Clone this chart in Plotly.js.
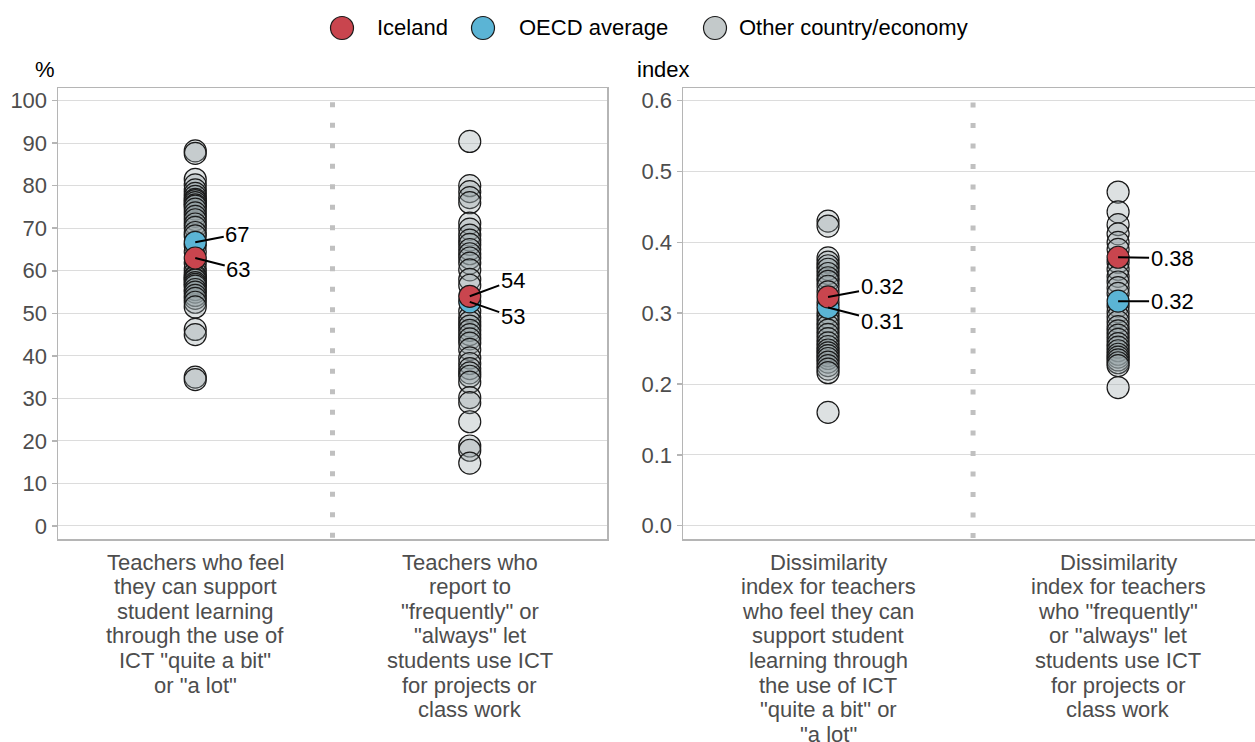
<!DOCTYPE html>
<html>
<head>
<meta charset="utf-8">
<script src="https://cdn.plot.ly/plotly-3.0.1.min.js"></script>
<style>html,body{margin:0;padding:0;background:#fff;}#chart{width:1255px;height:742px;}</style>
</head>
<body>
<div id="chart"></div>
<script>
// ---- Data ----
const categoriesPct = [
  'Teachers who feel<br>they can support<br>student learning<br>through the use of<br>ICT "quite a bit"<br>or "a lot"',
  'Teachers who<br>report to<br>"frequently" or<br>"always" let<br>students use ICT<br>for projects or<br>class work'
];
const categoriesIdx = [
  'Dissimilarity<br>index for teachers<br>who feel they can<br>support student<br>learning through<br>the use of ICT<br>"quite a bit" or<br>"a lot"',
  'Dissimilarity<br>index for teachers<br>who "frequently"<br>or "always" let<br>students use ICT<br>for projects or<br>class work'
];
const otherSupportPct = [88.2, 87.6, 81.5, 80.2, 79.0, 78.2, 77.5, 76.8, 76.5, 76.0, 75.5, 75.2, 74.5, 73.6, 72.8, 72.0, 71.0, 70.2, 69.0, 68.2, 66.0, 64.5, 61.8, 60.5, 59.6, 58.8, 58.5, 58.0, 57.8, 57.2, 56.8, 56.4, 55.6, 55.0, 54.2, 53.5, 52.6, 51.5, 46.2, 45.0, 35.0, 34.4];
const otherLetUsePct = [90.4, 80.0, 78.6, 77.2, 76.0, 71.2, 69.8, 68.4, 67.2, 66.2, 65.0, 64.0, 63.0, 61.8, 60.2, 58.0, 56.6, 50.5, 49.0, 48.0, 47.0, 46.0, 45.0, 44.0, 43.0, 41.5, 39.5, 38.2, 37.0, 36.0, 35.2, 33.8, 30.2, 29.0, 24.5, 18.8, 17.8, 14.8];
const otherSupportIdx = [0.430, 0.423, 0.378, 0.372, 0.367, 0.362, 0.356, 0.350, 0.345, 0.338, 0.330, 0.315, 0.300, 0.294, 0.288, 0.282, 0.276, 0.270, 0.264, 0.258, 0.253, 0.248, 0.244, 0.240, 0.236, 0.231, 0.226, 0.221, 0.216, 0.160];
const otherLetUseIdx = [0.471, 0.443, 0.425, 0.412, 0.400, 0.390, 0.372, 0.362, 0.352, 0.344, 0.336, 0.328, 0.310, 0.302, 0.295, 0.288, 0.281, 0.275, 0.269, 0.263, 0.257, 0.252, 0.247, 0.242, 0.238, 0.234, 0.230, 0.226, 0.195];
const icelandPct = [63.0, 54.0];
const oecdPct = [66.7, 52.7];
const icelandIdx = [0.323, 0.379];
const oecdIdx = [0.308, 0.317];
const seriesNames = ['Iceland', 'OECD average', 'Other country/economy'];
const pctTicks = [0, 10, 20, 30, 40, 50, 60, 70, 80, 90, 100];
const idxTicks = [0, 0.1, 0.2, 0.3, 0.4, 0.5, 0.6];

// ---- Style ----
const FONT = 'Arial, "Liberation Sans", sans-serif';
const FS = 22;
const RED = '#c9454e', BLUE = '#5bb4d5', GREY_FILL = 'rgba(150,163,165,0.32)', GREY_LEG = '#c3c9ca';
const MS = 22;
const mline = {color: '#1a1a1a', width: 1.2};
const W = 1255, H = 742;

const traces = [];
function addOthers(cat, vals, xa, ya) {
  traces.push({type: 'scatter', mode: 'markers', name: seriesNames[2], showlegend: false, hoverinfo: 'y',
    x: vals.map(() => cat), y: vals, xaxis: xa, yaxis: ya,
    marker: {size: MS, color: GREY_FILL, line: mline}});
}
addOthers(categoriesPct[0], otherSupportPct, 'x', 'y');
addOthers(categoriesPct[1], otherLetUsePct, 'x', 'y');
addOthers(categoriesIdx[0], otherSupportIdx, 'x2', 'y2');
addOthers(categoriesIdx[1], otherLetUseIdx, 'x2', 'y2');
function addMain(name, cats, vals, color, xa, ya) {
  traces.push({type: 'scatter', mode: 'markers', name: name, showlegend: false, hoverinfo: 'y',
    x: cats, y: vals, xaxis: xa, yaxis: ya,
    marker: {size: MS, color: color, line: mline}});
}
addMain(seriesNames[1], categoriesPct, oecdPct, BLUE, 'x', 'y');
addMain(seriesNames[0], categoriesPct, icelandPct, RED, 'x', 'y');
addMain(seriesNames[1], categoriesIdx, oecdIdx, BLUE, 'x2', 'y2');
addMain(seriesNames[0], categoriesIdx, icelandIdx, RED, 'x2', 'y2');

// value labels (offsets in pixels)
const labelOffsets = {
  pctOecd: [[42, -8], [43, 15]],
  pctIce: [[43, 11], [43, -16]],
  idxOecd: [[54, 14], [54, 0]],
  idxIce: [[54, -10], [54, 1]]
};
const annotations = [];
function addLabels(cats, vals, offs, digits, xa, ya) {
  cats.forEach((c, i) => {
    annotations.push({x: c, y: vals[i], xref: xa, yref: ya, text: vals[i].toFixed(digits),
      showarrow: true, arrowhead: 0, arrowwidth: 2, arrowcolor: '#000', standoff: 0,
      ax: offs[i][0], ay: offs[i][1], font: {family: FONT, size: FS, color: '#000'}});
  });
}
addLabels(categoriesPct, oecdPct, labelOffsets.pctOecd, 0, 'x', 'y');
addLabels(categoriesPct, icelandPct, labelOffsets.pctIce, 0, 'x', 'y');
addLabels(categoriesIdx, oecdIdx, labelOffsets.idxOecd, 2, 'x2', 'y2');
addLabels(categoriesIdx, icelandIdx, labelOffsets.idxIce, 2, 'x2', 'y2');

// category labels, one annotation per line (tighter line spacing than Plotly's default)
function addCategoryLabels(cats, xa) {
  cats.forEach(c => {
    c.split('<br>').forEach((line, i) => {
      annotations.push({x: c, xref: xa, y: 1 - (562 + i * 24.6) / H, yref: 'paper', yanchor: 'middle',
        text: line, showarrow: false, font: {family: FONT, size: FS, color: '#4d4d4d'}});
    });
  });
}
addCategoryLabels(categoriesPct, 'x');
addCategoryLabels(categoriesIdx, 'x2');

// axis unit titles
annotations.push({x: 33/W, y: 1 - 70/H, xref: 'paper', yref: 'paper', yanchor: 'middle', text: '%', showarrow: false,
  font: {family: FONT, size: FS, color: '#000'}});
annotations.push({x: 663/W, y: 1 - 70/H, xref: 'paper', yref: 'paper', yanchor: 'middle', text: 'index', showarrow: false,
  font: {family: FONT, size: FS, color: '#000'}});

// manual legend (larger symbols than Plotly's legend allows)
const shapes = [];
const legendItems = [
  {name: seriesNames[0], color: RED, cx: 342, tx: 375},
  {name: seriesNames[1], color: BLUE, cx: 483, tx: 517},
  {name: seriesNames[2], color: GREY_LEG, cx: 715, tx: 737}
];
legendItems.forEach(it => {
  shapes.push({type: 'circle', xref: 'paper', yref: 'paper', xsizemode: 'pixel', ysizemode: 'pixel',
    xanchor: it.cx/W, yanchor: 1 - 28/H, x0: -11.5, x1: 11.5, y0: -11.5, y1: 11.5,
    fillcolor: it.color, line: {color: '#1a1a1a', width: 1.2}});
  annotations.push({x: it.tx/W, y: 1 - 28/H, xref: 'paper', yref: 'paper', xanchor: 'left', yanchor: 'middle',
    text: it.name, showarrow: false, font: {family: FONT, size: FS, color: '#000'}});
});

// dotted separators
const sepLine = {color: '#c0c0c0', width: 5, dash: '5px,15.5px'};
shapes.push({type: 'line', xref: 'x', yref: 'y', x0: 0.5, x1: 0.5, y0: 99.6, y1: -3.06, line: sepLine});
shapes.push({type: 'line', xref: 'x2', yref: 'y2', x0: 0.5, x1: 0.5, y0: 0.5973, y1: -0.0188, line: sepLine});

const axisCol = '#b5b5b5';
const xCommon = {type: 'category', showgrid: false, zeroline: false, showline: true, linecolor: axisCol, linewidth: 1.5,
  mirror: true, ticks: '', showticklabels: false, fixedrange: true};
const yCommon = {showgrid: true, gridcolor: '#dcdcdc', gridwidth: 1, zeroline: false, showline: true, linecolor: axisCol,
  linewidth: 1.5, ticks: 'outside', ticklen: 5, tickcolor: axisCol, tickwidth: 1.5,
  tickfont: {family: FONT, size: FS, color: '#4d4d4d'}, fixedrange: true};

const layout = {
  width: W, height: H,
  margin: {l: 0, r: 0, t: 0, b: 0},
  paper_bgcolor: '#fff', plot_bgcolor: '#fff',
  showlegend: false,
  font: {family: FONT, size: FS, color: '#4d4d4d'},
  xaxis: Object.assign({}, xCommon, {domain: [58/W, 607/W], range: [-0.5, 1.5], anchor: 'y',
    categoryorder: 'array', categoryarray: categoriesPct}),
  yaxis: Object.assign({}, yCommon, {domain: [(H-539)/H, (H-88.3)/H], range: [-3.06, 102.9], anchor: 'x',
    mirror: true, tickvals: pctTicks}),
  xaxis2: Object.assign({}, xCommon, {domain: [683/W, 1], range: [-0.5, 1.472], anchor: 'y2',
    categoryorder: 'array', categoryarray: categoriesIdx}),
  yaxis2: Object.assign({}, yCommon, {domain: [(H-539)/H, (H-88.3)/H], range: [-0.0188, 0.6175], anchor: 'x2',
    mirror: false, tickvals: idxTicks, ticktext: idxTicks.map(v => v.toFixed(1))}),
  shapes: shapes,
  annotations: annotations
};

Plotly.newPlot('chart', traces, layout, {displayModeBar: false, staticPlot: true});
</script>
</body>
</html>
